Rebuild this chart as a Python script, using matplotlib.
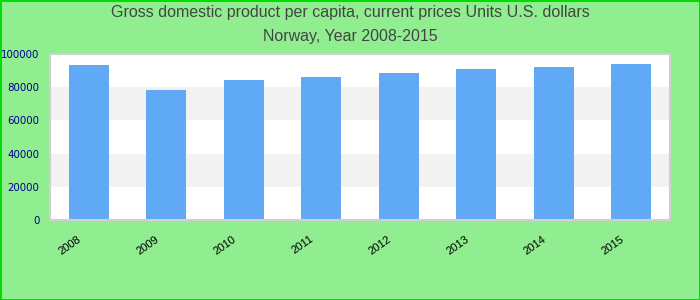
import matplotlib.pyplot as plt
import matplotlib.transforms as mtransforms

years = ['2008', '2009', '2010', '2011', '2012', '2013', '2014', '2015']
gdp_per_capita = [93400, 78300, 84300, 86100, 88500, 91000, 92200, 94000]
y_ticks = [0, 20000, 40000, 60000, 80000, 100000]

fig = plt.figure(figsize=(7, 3), dpi=100)
fig.patch.set_facecolor('#90ee90')
fig.patch.set_edgecolor('#00dd00')
fig.patch.set_linewidth(2)

ax = fig.add_axes([50 / 700, 80 / 300, 620 / 700, 166 / 300])
ax.set_facecolor('white')

# alternating bands
for lo, hi in zip(y_ticks[:-1], y_ticks[1:]):
    if (lo // 20000) % 2 == 1:
        ax.axhspan(lo, hi, color='#f2f2f2', zorder=0, lw=0)

x = range(len(years))
ax.bar(x, gdp_per_capita, width=0.52, color='#60a9f4', zorder=2)

ax.set_xlim(-0.5, len(years) - 0.5)
ax.set_ylim(0, 100000)
ax.set_yticks(y_ticks)
ax.set_yticklabels([str(v) for v in y_ticks], color='#00008b', fontsize=7.4,
                   family='DejaVu Sans')
ax.set_xticks(list(x))
ax.set_xticklabels(years, rotation=35, ha='right', fontsize=8,
                   family='Liberation Sans', color='black')
ax.tick_params(length=0)
ax.tick_params(axis='x', pad=10)
ax.tick_params(axis='y', pad=7.5)

offset = mtransforms.ScaledTranslation(-4 / 72, 0, fig.dpi_scale_trans)
for lbl in ax.get_xticklabels():
    lbl.set_transform(lbl.get_transform() + offset)

for side in ['top', 'bottom', 'left', 'right']:
    ax.spines[side].set_color('#d0d0d0')
    ax.spines[side].set_linewidth(1.5)

fig.text(0.5, 1 - 13 / 300, 'Gross domestic product per capita, current prices Units U.S. dollars',
         ha='center', va='center', fontsize=11.5, color='#444444', family='Liberation Sans')
fig.text(0.5, 1 - 36 / 300, 'Norway, Year 2008-2015',
         ha='center', va='center', fontsize=11.5, color='#444444', family='Liberation Sans')

plt.savefig('out.png', dpi=100, facecolor=fig.get_facecolor(), edgecolor=fig.get_edgecolor())
